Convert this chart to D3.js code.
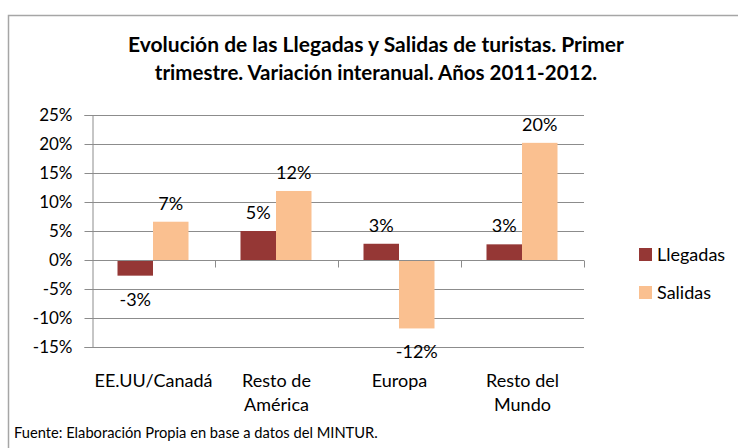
<!DOCTYPE html>
<html><head><meta charset="utf-8">
<script src="https://cdn.jsdelivr.net/npm/d3@7"></script>
<style>
html,body{margin:0;padding:0;background:#fff;}
svg{display:block;font-family:Lato,"Open Sans",sans-serif;}
</style></head>
<body>
<svg id="chart" width="738" height="448"></svg>
<script>
const categories = [["EE.UU/Canadá"],["Resto de","América"],["Europa"],["Resto del","Mundo"]];
const seriesNames = ["Llegadas","Salidas"];
const llegadas = [-2.7, 5.0, 2.8, 2.7];
const salidas = [6.6, 11.9, -11.8, 20.2];
const llegadasLabels = ["-3%","5%","3%","3%"];
const salidasLabels = ["7%","12%","-12%","20%"];
const yTicks = [-15,-10,-5,0,5,10,15,20,25];
const colors = ["#953735","#FAC090"];
const titleLines = ["Evolución de las Llegadas y Salidas de turistas. Primer","trimestre. Variación interanual. Años 2011-2012."];
const footer = "Fuente: Elaboración Propia en base a datos del MINTUR.";

const svg = d3.select("#chart");
// frame
svg.append("path").attr("d","M8.5,460 V15.5 H760").attr("fill","none").attr("stroke","#a6a6a6").attr("stroke-width",1.5);

const catKeys = categories.map(c=>c.join(" "));
const x0 = d3.scaleBand().domain(catKeys).range([92,584]).padding(0);
const x1 = d3.scaleBand().domain(seriesNames).range([25.5,96.5]).padding(0);
const y = d3.scaleLinear().domain([-15,25]).range([347,115]);

// gridlines
svg.append("g").selectAll("line").data(yTicks).join("line")
  .attr("x1",92).attr("x2",584).attr("y1",d=>Math.round(y(d))+0.5).attr("y2",d=>Math.round(y(d))+0.5)
  .attr("stroke","#8c8c8c").attr("stroke-width",1);

// y axis
const yAxis = d3.axisLeft(y).tickValues(yTicks).tickSize(8).tickPadding(12).tickFormat(d=>d+"%");
const gy = svg.append("g").attr("transform","translate(92.5,0)").call(yAxis);
gy.select(".domain").attr("stroke","#8c8c8c");
gy.selectAll(".tick line").attr("stroke","#8c8c8c");
gy.selectAll(".tick text").attr("font-size",17).attr("fill","#000").attr("font-family","Lato");

// data
const data = catKeys.map((k,i)=>({key:k, vals:[{s:"Llegadas",v:llegadas[i],lab:llegadasLabels[i]},{s:"Salidas",v:salidas[i],lab:salidasLabels[i]}]}));

const groups = svg.append("g").selectAll("g").data(data).join("g")
  .attr("transform",d=>`translate(${x0(d.key)},0)`);
groups.selectAll("rect").data(d=>d.vals).join("rect")
  .attr("x",d=>x1(d.s)).attr("width",x1.bandwidth())
  .attr("y",d=>y(Math.max(0,d.v))).attr("height",d=>Math.abs(y(d.v)-y(0)))
  .attr("fill",(d,i)=>colors[i]);
groups.selectAll("text").data(d=>d.vals).join("text")
  .attr("x",d=>x1(d.s)+x1.bandwidth()/2)
  .attr("y",d=>d.v>=0 ? y(d.v)-12 : y(d.v)+30)
  .attr("text-anchor","middle").attr("font-size",18).attr("fill","#000")
  .text(d=>d.lab);

// x axis line at zero + ticks
const zy = Math.round(y(0))+0.5;
svg.append("line").attr("x1",92).attr("x2",584).attr("y1",zy).attr("y2",zy).attr("stroke","#8c8c8c");
svg.append("g").selectAll("line").data(catKeys.slice(1).concat(["end"])).join("line")
  .attr("x1",d=>d==="end"?584.5:Math.round(x0(d))+0.5).attr("x2",d=>d==="end"?584.5:Math.round(x0(d))+0.5)
  .attr("y1",zy).attr("y2",zy+7).attr("stroke","#8c8c8c");

// category labels
const cl = svg.append("g").selectAll("text").data(categories).join("text")
  .attr("x",(d,i)=>x0(catKeys[i])+x0.bandwidth()/2).attr("y",387)
  .attr("text-anchor","middle").attr("font-size",18).attr("fill","#000");
cl.selectAll("tspan").data(d=>d).join("tspan")
  .attr("x",function(){return this.parentNode.getAttribute("x");})
  .attr("dy",(d,i)=>i===0?0:24).text(d=>d);

// title
svg.append("g").selectAll("text").data(titleLines).join("text")
  .attr("x",376).attr("y",(d,i)=>52+i*28).attr("text-anchor","middle")
  .attr("font-size",(d,i)=>i===0?21:20.5).attr("font-weight","bold").attr("fill","#000").text(d=>d);

// legend
const lg = svg.append("g").selectAll("g").data(seriesNames).join("g")
  .attr("transform",(d,i)=>`translate(639,${248+i*38})`);
lg.append("rect").attr("width",13).attr("height",13).attr("fill",(d,i)=>colors[i]);
lg.append("text").attr("x",18).attr("y",13).attr("font-size",18).attr("fill","#000").text(d=>d);

// footer
svg.append("text").attr("x",14).attr("y",438).attr("font-size",14.7).attr("fill","#000").text(footer);
</script>
</body></html>
